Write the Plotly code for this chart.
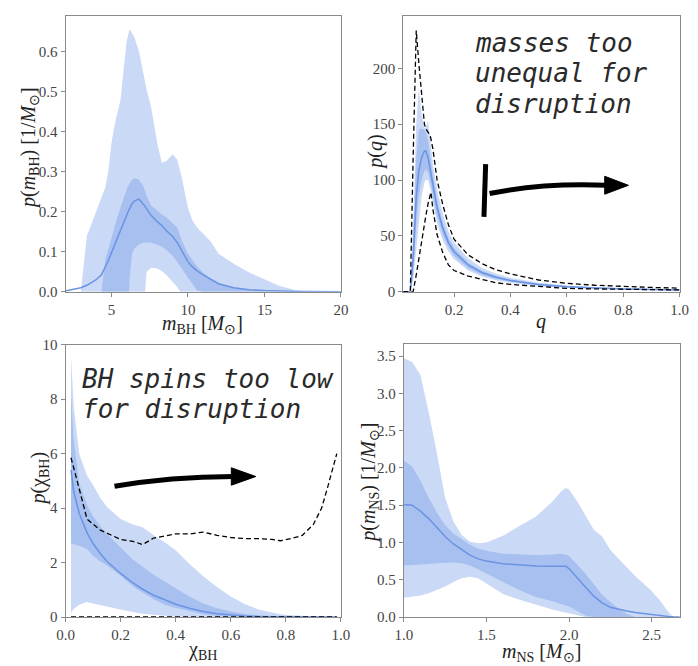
import plotly.graph_objects as go

W, H = 698, 666

# ---------------- Panel 1: m_BH ----------------
m_bh = [2.0, 3.0, 3.4, 3.7, 4.0, 4.35, 4.6, 4.8, 5.0, 5.2, 5.4, 5.6, 5.8, 6.0, 6.15, 6.2, 6.35, 6.5, 6.8, 7.1,
        7.2, 7.3, 7.6, 8.0, 8.3, 8.6, 9.0, 9.3, 9.5, 9.6, 10.0, 10.3, 10.6, 11.0, 11.5, 12.0, 13.0, 14.0, 15.0,
        16.0, 17.0, 18.0, 20.0]
mbh_u90 = [0, 0.0, 0.14, 0.17, 0.2, 0.23, 0.26, 0.30, 0.37, 0.415, 0.445, 0.48, 0.555, 0.625, 0.65, 0.655, 0.645,
           0.635, 0.60, 0.537, 0.52, 0.505, 0.46, 0.37, 0.322, 0.326, 0.343, 0.33, 0.30, 0.285, 0.21, 0.178, 0.16,
           0.145, 0.125, 0.095, 0.07, 0.048, 0.03, 0.014, 0.004, 0.0, 0.0]
mbh_l90 = [0, 0, 0, 0, 0, 0, 0, 0, 0, 0, 0, 0, 0, 0, 0, 0, 0, 0, 0, 0, 0.0, 0.05, 0.06, 0.058, 0.052, 0.042, 0.026,
           0.012, 0.0, 0, 0, 0, 0, 0, 0, 0, 0, 0, 0, 0, 0, 0, 0]
mbh_u50 = [0, 0, 0, 0, 0, 0.0, 0.08, 0.105, 0.135, 0.16, 0.188, 0.212, 0.235, 0.255, 0.268, 0.272, 0.28, 0.283, 0.28,
           0.262, 0.25, 0.238, 0.215, 0.202, 0.193, 0.185, 0.172, 0.16, 0.14, 0.128, 0.095, 0.078, 0.063, 0.048,
           0.032, 0.022, 0.01, 0.004, 0.001, 0, 0, 0, 0]
mbh_l50 = [0, 0, 0, 0, 0, 0, 0, 0, 0, 0, 0, 0, 0, 0, 0, 0.04, 0.095, 0.108, 0.118, 0.123, 0.123, 0.123, 0.122, 0.117,
           0.112, 0.104, 0.09, 0.075, 0.063, 0.057, 0.035, 0.02, 0.003, 0, 0, 0, 0, 0, 0, 0, 0, 0, 0]
mbh_med = [0.002, 0.01, 0.016, 0.022, 0.03, 0.042, 0.06, 0.078, 0.097, 0.116, 0.136, 0.155, 0.176, 0.195, 0.205,
           0.208, 0.22, 0.226, 0.231, 0.218, 0.212, 0.206, 0.19, 0.175, 0.165, 0.152, 0.138, 0.123, 0.11, 0.1,
           0.075, 0.062, 0.052, 0.042, 0.03, 0.02, 0.01, 0.005, 0.003, 0.0015, 0.0008, 0.0004, 0.0]

# ---------------- Panel 2: q ----------------
q = [0.02, 0.045, 0.055, 0.066, 0.075, 0.085, 0.095, 0.1, 0.108, 0.115, 0.118, 0.125, 0.14, 0.16, 0.18, 0.2,
     0.25, 0.3, 0.35, 0.4, 0.5, 0.6, 0.7, 0.8, 0.9, 1.0]
q_dash_hi = [0, 0, 120, 234, 205, 175, 150, 146, 143, 140, 137, 128, 100, 78, 60, 47, 33, 25, 19.5, 16, 10.5, 7.5,
             5.8, 4.6, 3.8, 3.2]
q_dash_lo = [0, 0, 0, 15, 30, 46, 60, 68, 79, 87, 89, 74, 51, 35, 24, 19, 14, 11, 8, 6.5, 4.5, 3, 2.5, 2, 1.8, 1.6]
q_u90 = [0, 0, 60, 150, 182, 160, 146, 148, 153, 135, 128, 115, 92, 70, 54, 44, 30, 21, 16, 12.5, 8, 5.5, 4, 3.2,
         2.6, 2.2]
q_l90 = [0, 0, 10, 40, 65, 85, 98, 100, 100, 94, 90, 80, 61, 46, 36, 29, 19, 13.5, 10, 8, 5, 3.5, 2.5, 1.9, 1.5, 1.2]
q_u50 = [0, 0, 45, 120, 145, 146, 145, 143, 135, 122, 117, 105, 82, 62, 48, 39, 26, 18.5, 14, 11, 7, 5, 3.6, 2.8,
         2.2, 1.8]
q_l50 = [0, 0, 15, 60, 85, 100, 108, 110, 107, 100, 96, 86, 68, 51, 40, 32, 21, 15, 11.5, 9, 5.8, 4, 2.9, 2.2, 1.8,
         1.4]
q_med = [0, 0, 30, 85, 108, 120, 126, 126, 120, 110, 106, 95, 75, 57, 44, 36, 24, 17, 13, 10, 6.5, 4.5, 3.2, 2.5,
         2.0, 1.6]

# ---------------- Panel 3: chi_BH ----------------
chi = [0.02, 0.03, 0.05, 0.078, 0.1, 0.125, 0.15, 0.2, 0.245, 0.28, 0.32, 0.36, 0.4, 0.45, 0.5, 0.55, 0.6, 0.65,
       0.7, 0.75, 0.78, 0.82, 0.86, 0.9, 0.93, 0.95, 0.97, 0.985]
chi_u90 = [9.6, 7.7, 6.0, 5.2, 4.85, 4.4, 4.05, 3.6, 3.4, 3.3, 3.0, 2.75, 2.45, 1.95, 1.5, 1.1, 0.75, 0.48, 0.28,
           0.15, 0.1, 0.06, 0.035, 0.02, 0.01, 0.008, 0.005, 0.003]
chi_l90 = [0.14, 0.3, 0.45, 0.55, 0.5, 0.45, 0.38, 0.28, 0.18, 0.12, 0.08, 0.05, 0.02, 0.01, 0, 0, 0, 0, 0, 0, 0, 0,
           0, 0, 0, 0, 0, 0]
chi_u50 = [8.2, 6.5, 4.9, 4.1, 3.7, 3.35, 3.05, 2.55, 2.1, 1.85, 1.55, 1.3, 1.05, 0.75, 0.5, 0.32, 0.2, 0.11, 0.06,
           0.03, 0.02, 0.01, 0.005, 0.004, 0.003, 0.002, 0.001, 0.0]
chi_l50 = [2.7, 2.68, 2.62, 2.5, 2.25, 2.05, 1.9, 1.52, 1.12, 0.9, 0.65, 0.45, 0.33, 0.22, 0.1, 0.04, 0.02, 0.01, 0,
           0, 0, 0, 0, 0, 0, 0, 0, 0]
chi_med = [5.4, 4.6, 3.8, 3.1, 2.7, 2.35, 2.05, 1.6, 1.25, 1.02, 0.8, 0.62, 0.47, 0.32, 0.2, 0.12, 0.07, 0.04, 0.02,
           0.01, 0.006, 0.004, 0.002, 0.001, 0.0, 0.0, 0.0, 0.0]
chi_dash_hi = [5.85, 5.5, 4.7, 3.6, 3.4, 3.2, 3.08, 2.85, 2.78, 2.66, 2.9, 2.98, 3.05, 3.05, 3.12, 3.0, 2.92, 2.88,
               2.88, 2.85, 2.8, 2.88, 3.0, 3.4, 4.0, 4.7, 5.4, 6.0]
chi_dash_lo = [0] * len(chi)

# ---------------- Panel 4: m_NS ----------------
m_ns = [1.0, 1.05, 1.1, 1.15, 1.2, 1.25, 1.3, 1.35, 1.4, 1.45, 1.5, 1.6, 1.7, 1.8, 1.9, 1.95, 1.98, 2.0, 2.05, 2.1,
        2.15, 2.2, 2.25, 2.3, 2.35, 2.4, 2.45, 2.5, 2.55, 2.6, 2.63, 2.67]
mns_u90 = [3.47, 3.42, 3.25, 2.75, 2.2, 1.6, 1.28, 1.1, 1.01, 0.99, 1.0, 1.09, 1.22, 1.35, 1.55, 1.68, 1.73, 1.71,
           1.55, 1.35, 1.17, 1.08, 0.9, 0.78, 0.66, 0.55, 0.45, 0.35, 0.22, 0.07, 0.0, 0.0]
mns_l90 = [0.26, 0.27, 0.29, 0.32, 0.36, 0.41, 0.47, 0.52, 0.54, 0.52, 0.45, 0.31, 0.23, 0.16, 0.1, 0.075, 0.06,
           0.05, 0.02, 0, 0, 0, 0, 0, 0, 0, 0, 0, 0, 0, 0, 0]
mns_u50 = [2.1, 2.02, 1.83, 1.6, 1.4, 1.23, 1.12, 1.04, 0.97, 0.92, 0.89, 0.85, 0.84, 0.83, 0.84, 0.85, 0.84, 0.82,
           0.7, 0.58, 0.44, 0.3, 0.2, 0.11, 0.04, 0.0, 0, 0, 0, 0, 0, 0]
mns_l50 = [0.69, 0.695, 0.70, 0.71, 0.72, 0.73, 0.73, 0.72, 0.69, 0.64, 0.58, 0.47, 0.36, 0.27, 0.21, 0.18, 0.16,
           0.14, 0.08, 0.02, 0, 0, 0, 0, 0, 0, 0, 0, 0, 0, 0, 0]
mns_med = [1.51, 1.5, 1.42, 1.32, 1.2, 1.08, 0.98, 0.9, 0.83, 0.78, 0.75, 0.715, 0.695, 0.685, 0.68, 0.68, 0.68,
           0.65, 0.52, 0.4, 0.28, 0.19, 0.13, 0.1, 0.08, 0.06, 0.045, 0.03, 0.018, 0.008, 0.003, 0.0]

LIGHT = "#c9d9f6"
DARK = "#a7c0f0"
LINE = "#6a93e4"

fig = go.Figure()


def add_panel(n, x, l90, u90, l50, u50, med, dashes=()):
    xa = "x" if n == 1 else f"x{n}"
    ya = "y" if n == 1 else f"y{n}"
    common = dict(xaxis=xa, yaxis=ya, showlegend=False, hoverinfo="skip", mode="lines")
    fig.add_trace(go.Scatter(x=x, y=l90, line=dict(width=0, color=LIGHT), **common))
    fig.add_trace(go.Scatter(x=x, y=u90, line=dict(width=0, color=LIGHT), fill="tonexty", fillcolor=LIGHT, **common))
    fig.add_trace(go.Scatter(x=x, y=l50, line=dict(width=0, color=DARK), **common))
    fig.add_trace(go.Scatter(x=x, y=u50, line=dict(width=0, color=DARK), fill="tonexty", fillcolor=DARK, **common))
    fig.add_trace(go.Scatter(x=x, y=med, line=dict(width=1.5, color=LINE), **common))
    for d in dashes:
        fig.add_trace(go.Scatter(x=x, y=d, line=dict(width=1.3, color="black", dash="5px,3px"), **common))


add_panel(1, m_bh, mbh_l90, mbh_u90, mbh_l50, mbh_u50, mbh_med)
add_panel(2, q, q_l90, q_u90, q_l50, q_u50, q_med, (q_dash_hi, q_dash_lo))
add_panel(3, chi, chi_l90, chi_u90, chi_l50, chi_u50, chi_med, (chi_dash_hi, chi_dash_lo))
add_panel(4, m_ns, mns_l90, mns_u90, mns_l50, mns_u50, mns_med)


def px_x(p):
    return p / W


def px_y(p):
    return 1 - p / H


TICKFONT = dict(family="Liberation Serif", size=15, color="#444444")
axis_common = dict(showline=True, linecolor="#8a8a8a", linewidth=1, mirror=True, ticks="outside", ticklen=4,
                   tickcolor="#8a8a8a", showgrid=False, zeroline=False, tickfont=TICKFONT)

dom = {
    1: ([58, 340.7], [8.7, 290.7]),
    2: ([404.7, 688.5], [8.7, 290.7]),
    3: ([58, 340.7], [345, 624]),
    4: ([405.3, 688.5], [344, 624]),
}
xranges = {1: [2, 20], 2: [0.02, 1.0], 3: [0, 1.0], 4: [1.0, 2.67]}
yranges = {1: [0, 0.687], 2: [0, 246.5], 3: [0, 10.0], 4: [0, 3.666]}
xticks = {1: [5, 10, 15, 20], 2: [0.2, 0.4, 0.6, 0.8, 1.0], 3: [0, 0.2, 0.4, 0.6, 0.8, 1.0], 4: [1.0, 1.5, 2.0, 2.5]}
yticks = {1: [0, 0.1, 0.2, 0.3, 0.4, 0.5, 0.6], 2: [0, 50, 100, 150, 200], 3: [0, 2, 4, 6, 8, 10],
          4: [0, 0.5, 1.0, 1.5, 2.0, 2.5, 3.0, 3.5]}
xfmt = {1: "d", 2: ".1f", 3: ".1f", 4: ".1f"}
yfmt = {1: ".1f", 2: "d", 3: "d", 4: ".1f"}

layout = dict(width=W, height=H, margin=dict(l=0, r=0, t=0, b=0), plot_bgcolor="white", paper_bgcolor="white")
for n in range(1, 5):
    (x0, x1), (y0, y1) = dom[n]
    sx = "" if n == 1 else str(n)
    layout[f"xaxis{sx}"] = dict(domain=[px_x(x0), px_x(x1)], range=xranges[n], tickvals=xticks[n],
                                tickformat=xfmt[n], anchor=f"y{sx}", **axis_common)
    layout[f"yaxis{sx}"] = dict(domain=[px_y(y1), px_y(y0)], range=yranges[n], tickvals=yticks[n],
                                tickformat=yfmt[n], anchor=f"x{sx}", **axis_common)
fig.update_layout(**layout)

TITLEFONT = dict(family="Liberation Serif", size=20, color="#222222")
titles = [
    ("<i>m</i><sub>BH</sub> [<i>M</i><sub>⊙</sub>]", 199, 324, 0),
    ("<i>q</i>", 546, 321, 0),
    ("χ<sub>BH</sub>", 199, 658, 0),
    ("<i>m</i><sub>NS</sub> [<i>M</i><sub>⊙</sub>]", 547, 660, 0),
    ("<i>p</i>(<i>m</i><sub>BH</sub>) [1/<i>M</i><sub>⊙</sub>]", 21, 143, -90),
    ("<i>p</i>(<i>q</i>)", 376, 148, -90),
    ("<i>p</i>(χ<sub>BH</sub>)", 31, 482, -90),
    ("<i>p</i>(<i>m</i><sub>NS</sub>) [1/<i>M</i><sub>⊙</sub>]", 370, 486, -90),
]
for txt, xp, yp, ang in titles:
    fig.add_annotation(text=txt, x=px_x(xp), y=px_y(yp), xref="paper", yref="paper", showarrow=False,
                       xanchor="center", yanchor="middle", textangle=ang, font=TITLEFONT)

MONO = dict(family="DejaVu Sans Mono", size=26, color="#2a2a2a", style="italic")
notes = [("masses too", 476, 36), ("unequal for", 476, 67), ("disruption", 476, 98),
         ("BH spins too low", 73, 380), ("for disruption", 73, 411)]
for txt, xp, yp in notes:
    fig.add_annotation(text=txt, x=px_x(xp), y=px_y(yp), xref="paper", yref="paper", showarrow=False,
                       xanchor="left", yanchor="middle", font=MONO)

# arrows (data coords of their panels)
fig.add_shape(type="line", xref="x2", yref="y2", x0=0.312, y0=114.3, x1=0.306, y1=67, line=dict(color="black", width=5))
fig.add_shape(type="path", xref="x2", yref="y2", path="M 0.326,88 Q 0.513,97.5 0.74,95.3",
              line=dict(color="black", width=5))
fig.add_shape(type="path", xref="x2", yref="y2", path="M 0.818,95.3 L 0.734,103.4 L 0.734,87.3 Z",
              fillcolor="black", line=dict(color="black", width=1))
fig.add_shape(type="path", xref="x3", yref="y3", path="M 0.178,4.80 Q 0.379,5.15 0.61,5.16",
              line=dict(color="black", width=5))
fig.add_shape(type="path", xref="x3", yref="y3", path="M 0.691,5.16 L 0.602,5.48 L 0.602,4.84 Z",
              fillcolor="black", line=dict(color="black", width=1))

fig.write_html("out.html")
